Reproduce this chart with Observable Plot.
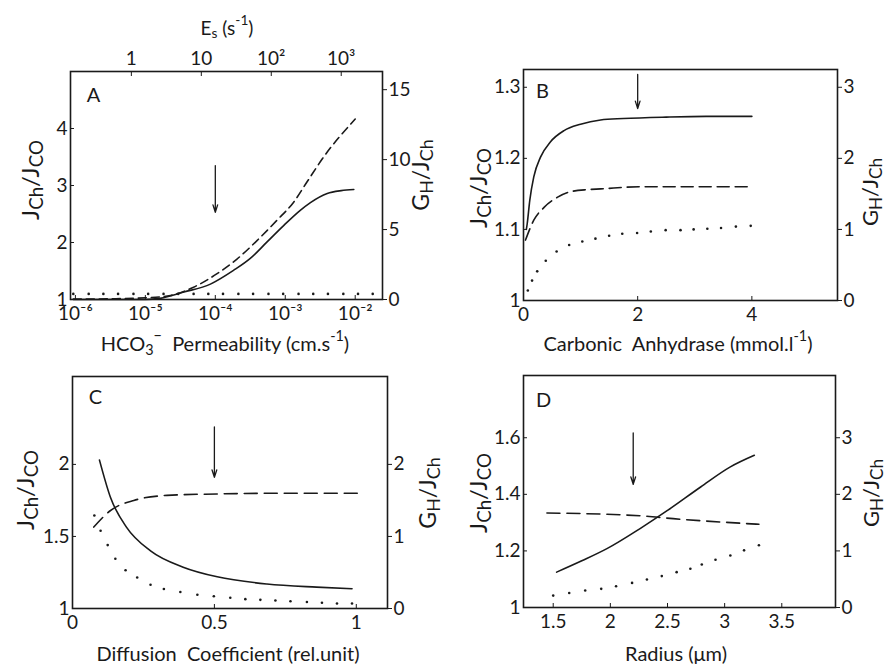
<!DOCTYPE html>
<html><head><meta charset="utf-8">
<script src="https://cdn.jsdelivr.net/npm/d3@7"></script>
<script src="https://cdn.jsdelivr.net/npm/@observablehq/plot@0.6"></script>
<style>
body{margin:0;background:#fff;}
#chart{position:relative;width:890px;height:665px;background:#fff;font-family:Lato,"Open Sans",sans-serif;color:#1a1a1a;}
#chart svg{position:absolute;overflow:visible;}
</style></head><body><div id="chart"></div>
<script>
// ---------- Panel A : HCO3- permeability (log10 cm/s) ----------
const permTicks = [-6, -5, -4, -3, -2];
const permTickLabels = ["10⁻⁶", "10⁻⁵", "10⁻⁴", "10⁻³", "10⁻²"];
const esTicks = [1, 10, 100, 1000];
const esTickLabels = ["1", "10", "10²", "10³"];
const esToPermLog = -5.2;          // log10(P) = log10(Es) + esToPermLog
const aLeftTicks = [1, 2, 3, 4];
const aRightTicks = [0, 5, 10, 15];
const aSolidX = [-6.03, -5.5, -5.0, -4.79, -4.45, -4.07, -3.74, -3.5, -3.26, -3.02, -2.79, -2.64, -2.40, -2.2, -2.02];
const aSolidY = [1.0, 1.0, 1.0, 1.02, 1.13, 1.27, 1.51, 1.72, 2.01, 2.30, 2.56, 2.70, 2.86, 2.91, 2.93];
const aDashX = [-6.03, -5.5, -5.0, -4.64, -4.31, -3.98, -3.69, -3.40, -3.12, -2.88, -2.69, -2.45, -2.0];
const aDashR = [0.03, 0.05, 0.12, 0.29, 0.88, 1.83, 2.89, 4.23, 5.66, 6.96, 8.4, 10.2, 12.9];
const aDotX = [-6.03, -5.81, -5.60, -5.39, -5.17, -4.96, -4.74, -4.53, -4.31, -4.10, -3.89, -3.67, -3.46, -3.24, -3.03, -2.81, -2.60, -2.39, -2.17, -1.96, -1.75];
const aDotR = [0.4, 0.4, 0.4, 0.4, 0.4, 0.4, 0.4, 0.4, 0.4, 0.4, 0.4, 0.4, 0.4, 0.4, 0.4, 0.4, 0.4, 0.4, 0.4, 0.4, 0.4];
const aArrow = {x: -4, y1: 3.35, y2: 2.53};

// ---------- Panel B : Carbonic anhydrase (mmol/l) ----------
const bXTicks = [0, 2, 4];
const bLeftTicks = [1, 1.1, 1.2, 1.3];
const bRightTicks = [0, 1, 2, 3];
const bSolidX = [0.05, 0.065, 0.11, 0.18, 0.30, 0.47, 0.71, 1.0, 1.35, 1.75, 2.5, 3.2, 4.0];
const bSolidY = [1.100, 1.108, 1.141, 1.174, 1.202, 1.223, 1.239, 1.248, 1.254, 1.256, 1.258, 1.259, 1.259];
const bDashX = [0.035, 0.18, 0.36, 0.59, 0.82, 1.12, 1.35, 2.05, 3.0, 4.0];
const bDashR = [0.85, 1.13, 1.31, 1.45, 1.53, 1.56, 1.57, 1.60, 1.60, 1.60];
const bDotX = [0.076, 0.15, 0.24, 0.39, 0.58, 0.80, 1.03, 1.26, 1.50, 1.73, 1.99, 2.23, 2.49, 2.75, 2.98, 3.22, 3.46, 3.72, 3.98];
const bDotR = [0.14, 0.28, 0.41, 0.56, 0.69, 0.78, 0.83, 0.87, 0.91, 0.94, 0.95, 0.97, 0.99, 0.99, 1.00, 1.01, 1.02, 1.04, 1.05];
const bArrow = {x: 2, y1: 1.318, y2: 1.270};

// ---------- Panel C : Diffusion coefficient (rel. unit) ----------
const cXTicks = [0, 0.5, 1];
const cLeftTicks = [1, 1.5, 2];
const cRightTicks = [0, 1, 2];
const cSolidX = [0.095, 0.134, 0.19, 0.275, 0.39, 0.51, 0.685, 0.86, 0.985];
const cSolidY = [2.03, 1.77, 1.565, 1.40, 1.287, 1.22, 1.17, 1.148, 1.137];
const cDashX = [0.075, 0.134, 0.216, 0.333, 0.51, 0.75, 1.008];
const cDashR = [1.13, 1.36, 1.50, 1.57, 1.59, 1.60, 1.60];
const cDotX = [0.077, 0.099, 0.124, 0.151, 0.187, 0.228, 0.275, 0.322, 0.38, 0.44, 0.498, 0.556, 0.609, 0.662, 0.715, 0.768, 0.826, 0.879, 0.932, 0.985];
const cDotR = [1.29, 1.08, 0.88, 0.69, 0.53, 0.43, 0.33, 0.27, 0.23, 0.19, 0.17, 0.15, 0.13, 0.12, 0.11, 0.10, 0.09, 0.08, 0.07, 0.07];
const cArrow = {x: 0.5, y1: 2.26, y2: 1.91};

// ---------- Panel D : Radius (µm) ----------
const dXTicks = [1.5, 2, 2.5, 3, 3.5];
const dLeftTicks = [1, 1.2, 1.4, 1.6];
const dRightTicks = [0, 1, 2, 3];
const dSolidX = [1.53, 1.75, 1.97, 2.26, 2.50, 2.79, 3.05, 3.26];
const dSolidY = [1.125, 1.165, 1.208, 1.279, 1.343, 1.426, 1.497, 1.538];
const dDashX = [1.445, 2.26, 2.55, 3.30];
const dDashR = [1.67, 1.62, 1.57, 1.47];
const dDotX = [1.50, 1.64, 1.78, 1.92, 2.05, 2.19, 2.32, 2.45, 2.58, 2.70, 2.80, 2.92, 3.05, 3.17, 3.30];
const dDotR = [0.21, 0.255, 0.30, 0.33, 0.375, 0.435, 0.495, 0.555, 0.625, 0.685, 0.76, 0.845, 0.92, 1.01, 1.10];
const dArrow = {x: 2.2, y1: 1.617, y2: 1.435};

const INK = "#1a1a1a";
const FONT = "Lato, 'Open Sans', sans-serif";
const chart = document.getElementById("chart");

function addLabel(svg, x, y, rot, parts, size, subScale) {
  const t = d3.select(svg).append("text")
    .attr("transform", `translate(${x},${y}) rotate(${rot})`)
    .attr("text-anchor", "middle").attr("dominant-baseline", "central")
    .attr("font-size", size).attr("font-family", FONT).attr("fill", INK);
  let shift = 0;
  for (const [s, kind] of parts) {
    const span = t.append("tspan").text(s);
    const target = kind === "sub" ? 0.28 * size : kind === "sup" ? -0.42 * size : 0;
    if (target !== shift) span.attr("dy", target - shift);
    shift = target;
    if (kind) span.attr("font-size", size * (subScale || 0.72));
  }
}

function panel(p) {
  const [y0, y1] = p.yDomain, [r0, r1] = p.rDomain;
  const r2y = r => y0 + (r - r0) * (y1 - y0) / (r1 - r0);
  const y2r = y => r0 + (y - y0) * (r1 - r0) / (y1 - y0);
  const marks = [
    Plot.axisX({anchor: "bottom", ticks: p.xTicks, tickFormat: p.xFmt, tickSize: -4, tickPadding: 11}),
    Plot.axisY({anchor: "left", ticks: p.yTicks, tickFormat: d => String(d), tickSize: -4, tickPadding: 7}),
    Plot.axisY({anchor: "right", ticks: p.rTicks.map(r2y), tickFormat: d => String(+y2r(d).toFixed(2)), tickSize: 4, tickPadding: 2}),
    Plot.frame({stroke: INK, strokeWidth: 1.6}),
    Plot.line(p.solidY, {x: p.solidX, y: p.solidY, curve: "monotone-x", stroke: INK, strokeWidth: 1.6}),
    Plot.line(p.dashR, {x: p.dashX, y: p.dashR.map(r2y), curve: "monotone-x", stroke: INK, strokeWidth: 1.6, strokeDasharray: p.dash}),
    Plot.dot(p.dotR, {x: p.dotX, y: p.dotR.map(r2y), r: 1.3, fill: INK, stroke: null}),
    Plot.arrow([p.arrow], {x1: "x", x2: "x", y1: "y1", y2: "y2", stroke: INK, strokeWidth: 1.3, headLength: 9, headAngle: 35}),
    Plot.text([p.letter], {frameAnchor: "top-left", dx: p.letterDx, dy: p.letterDy, text: d => d, fontSize: 20, fill: INK, textAnchor: "middle", lineAnchor: "middle"})
  ];
  if (p.top) marks.push(Plot.axisX({anchor: "top", ticks: p.top.ticks, tickFormat: p.top.fmt, tickSize: -4, tickPadding: 11}));
  const svg = Plot.plot({
    width: p.w, height: p.h,
    marginLeft: p.m[0], marginRight: p.m[1], marginTop: p.m[2], marginBottom: p.m[3],
    x: {domain: p.xDomain, label: null},
    y: {domain: p.yDomain, label: null},
    style: {background: "transparent", fontFamily: FONT, fontSize: "19px", color: INK, overflow: "visible"},
    marks
  });
  svg.style.left = p.ox + "px";
  svg.style.top = p.oy + "px";
  chart.appendChild(svg);
  for (const L of p.labels) addLabel(svg, L.x - p.ox, L.y - p.oy, L.rot || 0, L.parts, L.size || 20, L.sub);
  return svg;
}

const leftLab = [["J"], ["Ch", "sub"], ["/"], ["J"], ["CO", "sub"]];
const rightLab = [["G"], ["H", "sub"], ["/"], ["J"], ["Ch", "sub"]];

panel({
  ox: 0, oy: 0, w: 445, h: 360, m: [70, 63, 71, 61],
  xDomain: [-6.07, -1.61], yDomain: [1, 5], rDomain: [0, 16.3],
  xTicks: permTicks, xFmt: d => permTickLabels[permTicks.indexOf(d)],
  yTicks: aLeftTicks, rTicks: aRightTicks,
  solidX: aSolidX, solidY: aSolidY, dashX: aDashX, dashR: aDashR, dash: "8,5",
  dotX: aDotX, dotR: aDotR, arrow: aArrow, letter: "A", letterDx: 23, letterDy: 24,
  top: {ticks: esTicks.map(e => Math.log10(e) + esToPermLog), fmt: d => esTickLabels[Math.round(d - esToPermLog)]},
  labels: [
    {x: 29, y: 180, rot: -90, parts: leftLab, size: 24, sub: 0.78},
    {x: 420, y: 175, rot: -90, parts: rightLab, size: 23, sub: 0.78},
    {x: 225, y: 343, parts: [["HCO"], ["3", "sub"], ["−", "sup"], ["  Permeability (cm.s"], ["-1", "sup"], [")"]]},
    {x: 227, y: 27, parts: [["E"], ["s", "sub"], [" (s"], ["-1", "sup"], [")"]], size: 19}
  ]
});

panel({
  ox: 445, oy: 0, w: 445, h: 360, m: [78, 53, 69, 60],
  xDomain: [0, 5.5], yDomain: [1, 1.325], rDomain: [0, 3.25],
  xTicks: bXTicks, xFmt: d => String(d),
  yTicks: bLeftTicks, rTicks: bRightTicks,
  solidX: bSolidX, solidY: bSolidY, dashX: bDashX, dashR: bDashR, dash: "12,6",
  dotX: bDotX, dotR: bDotR, arrow: bArrow, letter: "B", letterDx: 19, letterDy: 22,
  labels: [
    {x: 477, y: 188, rot: -90, parts: leftLab, size: 24, sub: 0.78},
    {x: 869, y: 192, rot: -90, parts: rightLab, size: 22, sub: 0.78},
    {x: 678, y: 343, parts: [["Carbonic  Anhydrase (mmol.l"], ["-1", "sup"], [")"]]}
  ]
});

panel({
  ox: 0, oy: 360, w: 445, h: 305, m: [72, 58, 16, 57],
  xDomain: [0, 1.11], yDomain: [1, 2.61], rDomain: [0, 3.22],
  xTicks: cXTicks, xFmt: d => String(d),
  yTicks: cLeftTicks, rTicks: cRightTicks,
  solidX: cSolidX, solidY: cSolidY, dashX: cDashX, dashR: cDashR, dash: "13,7",
  dotX: cDotX, dotR: cDotR, arrow: cArrow, letter: "C", letterDx: 23, letterDy: 21,
  labels: [
    {x: 24, y: 490, rot: -90, parts: leftLab, size: 24, sub: 0.78},
    {x: 427, y: 493, rot: -90, parts: rightLab, size: 23, sub: 0.78},
    {x: 228, y: 653, parts: [["Diffusion  Coefficient (rel.unit)"]]}
  ]
});

panel({
  ox: 445, oy: 360, w: 445, h: 305, m: [78, 55, 15, 58],
  xDomain: [1.24, 3.97], yDomain: [1, 1.82], rDomain: [0, 4.1],
  xTicks: dXTicks, xFmt: d => String(d),
  yTicks: dLeftTicks, rTicks: dRightTicks,
  solidX: dSolidX, solidY: dSolidY, dashX: dDashX, dashR: dDashR, dash: "13,7",
  dotX: dDotX, dotR: dDotR, arrow: dArrow, letter: "D", letterDx: 20, letterDy: 25,
  labels: [
    {x: 477, y: 493, rot: -90, parts: leftLab, size: 24, sub: 0.78},
    {x: 870, y: 493, rot: -90, parts: rightLab, size: 22, sub: 0.78},
    {x: 676, y: 653, parts: [["Radius (μm)"]]}
  ]
});
</script></body></html>
